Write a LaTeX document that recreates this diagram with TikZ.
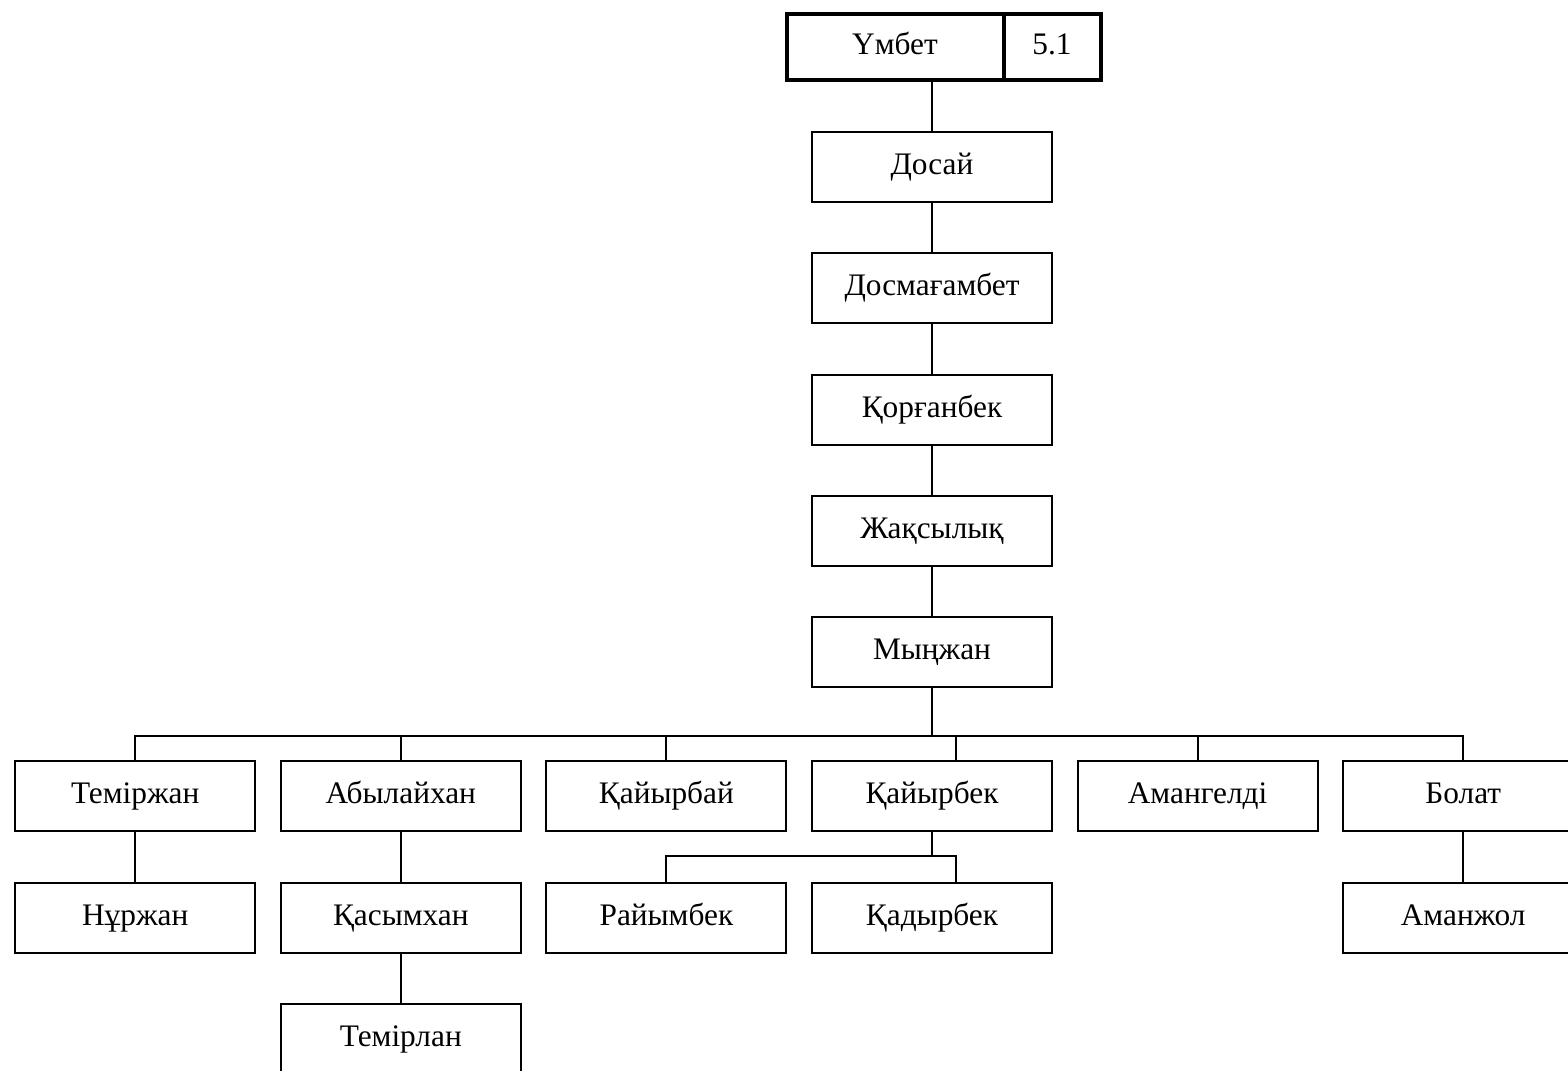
\documentclass[tikz,border=0pt]{standalone}
\usepackage{fontspec}
\setmainfont{Liberation Serif}
\usetikzlibrary{positioning, calc}

\begin{document}
\begin{tikzpicture}[
    node distance=37pt and 17.7pt,
    person/.style={rectangle, draw, line width=1.5pt, minimum width=180pt, minimum height=52.5pt, inner sep=0pt, text height=16pt, text depth=5pt, font=\fontsize{23.5}{27}\selectfont},
    rootcell/.style={rectangle, draw, line width=3pt, outer sep=0pt, minimum height=49.5pt, inner sep=0pt, text height=16pt, text depth=5pt, font=\fontsize{23.5}{27}\selectfont},
    link/.style={line width=1.5pt}
]
    \useasboundingbox (0,0) rectangle (1176pt,-803.25pt);

    % main line
    \node [person] (dosai) at (699pt,-125.25pt) {Досай};
    \node [person, below=of dosai] (dosmagambet) {Досмағамбет};
    \node [person, below=of dosmagambet] (korganbek) {Қорғанбек};
    \node [person, below=of korganbek] (zhaksylyk) {Жақсылық};
    \node [person, below=of zhaksylyk] (mynzhan) {Мыңжан};

    % root
    \node [rootcell, minimum width=162.75pt, above=38.25pt of dosai, xshift=-27.75pt] (umbet) {Үмбет};
    \node [rootcell, minimum width=72.75pt, anchor=west] (number) at (umbet.east) {5.1};

    % sons of Мыңжан
    \node [person, below=54pt of mynzhan] (kaiyrbek) {Қайырбек};
    \node [person, left=of kaiyrbek] (kaiyrbai) {Қайырбай};
    \node [person, left=of kaiyrbai] (abylaikhan) {Абылайхан};
    \node [person, left=of abylaikhan] (temirzhan) {Теміржан};
    \node [person, right=of kaiyrbek] (amangeldi) {Амангелді};
    \node [person, right=of amangeldi] (bolat) {Болат};

    % grandsons
    \node [person, below=of temirzhan] (nurzhan) {Нұржан};
    \node [person, below=of abylaikhan] (kasymkhan) {Қасымхан};
    \node [person, below=of kaiyrbai] (raiymbek) {Райымбек};
    \node [person, below=of kaiyrbek] (kadyrbek) {Қадырбек};
    \node [person, below=of bolat] (amanzhol) {Аманжол};
    \node [person, below=of kasymkhan] (temirlan) {Темірлан};

    \coordinate (bus) at ($(mynzhan.south)+(0,-36pt)$);
    \coordinate (kbus) at ($(kaiyrbek.south)+(0,-18pt)$);
    \coordinate (kbtop) at ($(kaiyrbek.north west)!0.6!(kaiyrbek.north east)$);
    \coordinate (kdtop) at ($(kadyrbek.north west)!0.6!(kadyrbek.north east)$);

    \draw [link] (dosai.north) -- (dosai.north |- umbet.south);
    \draw [link] (dosai) -- (dosmagambet);
    \draw [link] (dosmagambet) -- (korganbek);
    \draw [link] (korganbek) -- (zhaksylyk);
    \draw [link] (zhaksylyk) -- (mynzhan);

    \draw [link] (mynzhan.south) -- (bus);
    \draw [link] (temirzhan.north) |- (bus) -| (bolat.north);
    \foreach \son in {abylaikhan, kaiyrbai, amangeldi}
        \draw [link] (\son.north) -- (\son.north |- bus);
    \draw [link] (kbtop) -- (kbtop |- bus);

    \draw [link] (temirzhan) -- (nurzhan);
    \draw [link] (abylaikhan) -- (kasymkhan);
    \draw [link] (kasymkhan) -- (temirlan);
    \draw [link] (bolat) -- (amanzhol);
    \draw [link] (kaiyrbek.south) -- (kbus);
    \draw [link] (raiymbek.north) |- (kdtop |- kbus) -- (kdtop);
\end{tikzpicture}
\end{document}
